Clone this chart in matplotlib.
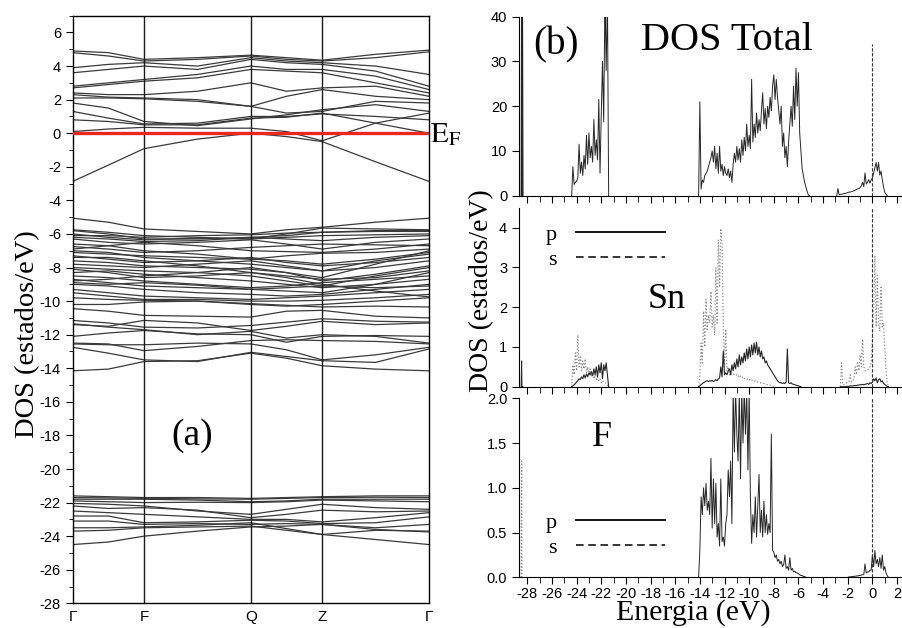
import numpy as np
import matplotlib.pyplot as plt
from matplotlib.lines import Line2D
from matplotlib.ticker import MultipleLocator, FormatStrFormatter

plt.rcParams['font.family'] = 'Liberation Sans'
plt.rcParams['axes.unicode_minus'] = False
plt.rcParams['mathtext.fontset'] = 'stix'
SERIF = 'Liberation Serif'

# ---- band structure (a) ----
k_labels = ['Γ', 'F', 'Q', 'Z', 'Γ']
k_nodes = [0.0, 0.2, 0.5, 0.7, 1.0]
k_path = [0.0, 0.1, 0.2, 0.35, 0.5, 0.6, 0.7, 0.85, 1.0]

bands_cond = [
    [-2.87, -1.9, -0.92, -0.35, 0.0, -0.2, -0.5, -1.7, -2.87],
    [0.1, 0.25, 0.35, 0.3, 0.3, 0.1, -0.45, 0.6, 1.2],
    [0.8, 0.7, 0.5, 0.5, 0.9, 0.95, 1.2, 0.6, 0.0],
    [1.3, 0.9, 0.55, 0.6, 1.0, 1.0, 1.15, 1.0, 0.8],
    [1.8, 1.5, 0.7, 0.45, 0.85, 1.1, 1.4, 1.7, 1.3],
    [2.1, 2.1, 2.05, 1.9, 1.6, 1.2, 1.3, 1.9, 1.8],
    [2.3, 2.15, 2.1, 2.0, 1.6, 2.2, 2.6, 2.2, 2.0],
    [2.4, 2.3, 2.3, 2.5, 3.0, 2.5, 2.7, 2.8, 2.2],
    [2.7, 2.9, 3.1, 3.3, 3.8, 3.7, 3.6, 3.0, 2.4],
    [2.8, 3.0, 3.2, 3.5, 4.0, 3.8, 3.8, 3.4, 2.6],
    [3.6, 3.8, 4.0, 3.8, 4.4, 4.2, 4.1, 3.7, 2.8],
    [3.9, 4.1, 4.2, 4.0, 4.5, 4.3, 4.2, 4.0, 3.5],
    [4.8, 4.6, 4.3, 4.4, 4.6, 4.4, 4.3, 4.5, 4.85],
    [4.9, 4.8, 4.4, 4.5, 4.65, 4.5, 4.35, 4.7, 4.95],
]

bands_val = [
    [-5.06, -5.3, -5.7, -5.85, -6.0, -5.75, -5.6, -5.3, -5.06],
    [-5.75, -5.9, -6.1, -6.2, -6.3, -6.0, -5.65, -5.7, -5.75],
    [-5.8, -6.0, -6.3, -6.3, -6.2, -6.1, -5.9, -5.8, -5.8],
    [-6.0, -6.2, -6.35, -6.25, -6.3, -6.2, -6.1, -6.05, -6.0],
    [-6.1, -6.1, -6.2, -6.1, -6.05, -5.95, -5.9, -5.85, -5.85],
    [-6.2, -6.3, -6.45, -6.4, -6.2, -6.3, -6.4, -6.2, -6.1],
    [-6.3, -6.5, -6.6, -6.5, -6.35, -6.6, -6.9, -6.5, -6.3],
    [-6.6, -6.7, -6.5, -6.7, -7.0, -7.05, -7.1, -6.9, -6.6],
    [-6.75, -6.9, -7.1, -7.0, -6.8, -6.7, -6.6, -6.65, -6.7],
    [-6.9, -6.7, -7.0, -7.2, -7.5, -7.3, -7.15, -7.1, -6.9],
    [-7.0, -7.1, -7.4, -7.6, -7.8, -8.0, -8.2, -7.6, -7.2],
    [-7.1, -7.2, -7.3, -7.4, -7.5, -7.6, -7.8, -7.5, -7.1],
    [-7.3, -7.5, -7.7, -7.6, -7.4, -7.7, -7.9, -7.7, -7.4],
    [-7.4, -7.4, -7.6, -7.9, -8.3, -8.6, -9.0, -9.4, -9.75],
    [-7.6, -7.7, -7.9, -8.0, -8.1, -8.3, -8.6, -7.8, -7.0],
    [-7.8, -7.9, -8.0, -7.8, -7.6, -7.9, -8.2, -8.0, -7.6],
    [-8.0, -8.1, -8.2, -8.3, -8.5, -8.8, -9.1, -8.5, -8.0],
    [-8.1, -8.3, -8.6, -8.5, -8.3, -8.5, -8.7, -8.6, -8.2],
    [-8.3, -8.2, -8.4, -8.6, -8.8, -9.0, -9.2, -9.0, -8.3],
    [-8.5, -8.6, -8.8, -9.0, -9.2, -9.1, -8.9, -8.7, -8.5],
    [-8.8, -8.7, -8.5, -8.3, -8.0, -8.3, -8.8, -8.4, -7.9],
    [-8.7, -8.9, -9.1, -9.2, -9.3, -9.4, -9.5, -9.0, -8.7],
    [-8.9, -9.0, -8.9, -9.05, -9.3, -9.2, -9.1, -9.2, -9.1],
    [-9.0, -9.1, -9.3, -9.5, -9.6, -9.7, -9.6, -9.3, -9.0],
    [-9.3, -9.5, -9.7, -9.8, -9.9, -9.8, -9.7, -9.5, -9.3],
    [-9.5, -9.7, -9.9, -9.9, -10.0, -10.0, -9.95, -9.8, -9.6],
    [-9.8, -9.9, -9.95, -10.0, -10.2, -10.3, -10.2, -10.0, -9.8],
    [-10.2, -10.2, -10.05, -10.0, -10.15, -10.25, -10.35, -10.3, -10.35],
    [-10.45, -10.6, -10.85, -10.9, -10.95, -10.6, -10.55, -10.9, -11.0],
    [-11.15, -11.3, -11.55, -11.6, -11.45, -11.25, -11.05, -11.2, -11.25],
    [-11.4, -11.5, -11.15, -11.3, -11.75, -11.5, -11.2, -11.4, -11.3],
    [-11.35, -11.55, -11.7, -12.0, -11.8, -12.2, -12.0, -12.1, -12.5],
    [-12.1, -11.9, -11.75, -11.95, -12.0, -12.45, -12.1, -12.05, -12.1],
    [-12.5, -12.55, -12.95, -12.7, -12.35, -12.3, -12.35, -12.4, -12.55],
    [-12.55, -12.6, -12.6, -12.5, -12.55, -12.9, -13.5, -13.2, -12.75],
    [-12.75, -13.1, -13.5, -13.6, -13.05, -13.3, -13.55, -13.65, -12.85],
    [-14.15, -14.05, -13.6, -13.55, -13.1, -13.4, -13.85, -14.05, -14.15],
]

bands_low = [
    [-21.6, -21.65, -21.7, -21.7, -21.75, -21.7, -21.65, -21.6, -21.6],
    [-21.7, -21.72, -21.75, -21.78, -21.8, -21.75, -21.7, -21.68, -21.7],
    [-21.8, -21.8, -21.8, -21.85, -21.95, -21.9, -21.8, -21.8, -21.8],
    [-21.9, -21.95, -22.0, -21.98, -22.0, -21.95, -21.85, -21.9, -21.95],
    [-22.05, -22.1, -22.2, -22.5, -22.7, -22.4, -22.1, -22.3, -22.4],
    [-22.2, -22.35, -22.3, -22.45, -22.9, -22.7, -22.45, -22.55, -22.5],
    [-22.5, -22.6, -22.7, -22.85, -23.0, -23.0, -23.15, -22.9, -22.6],
    [-22.8, -22.8, -23.2, -23.15, -23.05, -23.1, -23.25, -23.2, -22.85],
    [-23.1, -23.1, -23.3, -23.25, -23.3, -23.25, -23.3, -23.5, -23.3],
    [-23.5, -23.5, -23.45, -23.35, -23.2, -23.55, -23.9, -23.65, -23.7],
    [-23.7, -23.65, -23.5, -23.45, -23.4, -23.65, -23.9, -24.2, -24.5],
    [-24.5, -24.35, -24.0, -23.7, -23.45, -23.4, -23.3, -23.6, -23.75],
]

# ---- DOS (b): values on 0.1 eV steps starting at the given energy ----
core_e = [-28.50, -28.46, -28.43, -28.39, -28.35]
total_core = [0, 45, 0, 45, 0]
sn_p_core = [0, 0.65, 0, 0, 0]
f_s_core = [0, 1.3, 0, 0, 0]

total_a0 = -24.4
total_a = [0, 6.5, 2.5, 3.0, 3.2, 4.0, 11.5, 5.0, 7.5, 4.5, 9.0, 6.0, 13.5, 7.0, 14.0, 8.5,
           11.0, 7.5, 17.0, 9.0, 12.5, 8.0, 21.5, 5.0, 18.0, 30.0, 16.5, 45.0, 28.0, 45.0, 0.0]
total_b0 = -14.1
total_b = [0, 21, 1.5, 3.5, 3.0, 4.5, 5.0, 5.5, 6.5, 7.5, 8.5, 10.0, 7.5, 11.0, 6.0, 9.5,
           5.0, 11.0, 5.5, 7.0, 4.5, 6.5, 5.0, 4.5, 6.0, 4.0, 5.5, 3.0, 7.0, 9.5, 7.5, 11.0,
           8.0, 10.5, 7.5, 12.5, 9.0, 13.0, 10.0, 16.0, 11.0, 13.5, 10.5, 26.0, 12.0, 16.0,
           13.0, 18.5, 14.0, 17.0, 14.5, 19.0, 23.0, 16.0, 19.5, 15.0, 20.0, 17.5, 22.0, 19.0,
           24.5, 27.0, 21.5, 26.0, 22.0, 19.0, 16.0, 20.0, 11.0, 14.0, 8.5, 11.0, 6.5, 12.0,
           16.0, 20.0, 15.5, 24.5, 17.0, 28.5, 20.0, 27.5, 14.0, 10.0, 6.0, 4.5, 3.0, 2.0,
           1.0, 0.2, 0]
total_c0 = -2.9
total_c = [0, 1.6, 0.2, 0.3, 0.3, 0.4, 0.5, 0.5, 0.6, 0.7, 0.8, 0.8, 0.9, 1.0, 1.1, 1.2,
           1.4, 1.5, 1.6, 1.8, 2.2, 3.0, 2.0, 5.1, 2.6, 3.0, 3.6, 2.8, 3.5, 4.0, 5.0, 6.3,
           7.4, 5.5, 7.4, 4.6, 5.5, 3.6, 2.0, 0.8, 0.3, 0]

sn_a0 = -24.4
sn_p_a = [0, 0.02, 0.05, 0.08, 0.12, 0.15, 0.2, 0.18, 0.25, 0.2, 0.3, 0.22, 0.32, 0.25,
          0.35, 0.3, 0.38, 0.28, 0.45, 0.3, 0.5, 0.25, 0.55, 0.35, 0.6, 0.2, 0.55, 0.4,
          0.6, 0.3, 0]
sn_s_a = [0, 0.55, 0.3, 0.85, 0.4, 1.3, 0.5, 0.75, 0.4, 0.65, 0.45, 0.7, 0.35, 0.5, 0.3,
          0.45, 0.25, 0.35, 0.2, 0.3, 0.15, 0.25, 0.15, 0.2, 0.1, 0.15, 0.1, 0.1, 0.08,
          0.05, 0]
sn_b0 = -14.1
sn_p_b = [0, 0.03, 0.05, 0.08, 0.1, 0.12, 0.14, 0.15, 0.13, 0.15, 0.14, 0.16, 0.13, 0.15,
          0.18, 0.15, 0.2, 0.22, 0.5, 0.25, 0.9, 0.3, 0.35, 0.3, 0.4, 0.45, 0.3, 0.55, 0.4,
          0.6, 0.45, 0.7, 0.5, 0.8, 0.55, 0.75, 0.6, 0.85, 0.65, 0.95, 0.7, 1.0, 0.75, 1.05,
          0.8, 1.1, 0.85, 1.12, 0.8, 1.0, 0.75, 0.9, 0.7, 0.75, 0.6, 0.65, 0.55, 0.5, 0.45,
          0.4, 0.35, 0.3, 0.25, 0.2, 0.15, 0.12, 0.1, 0.1, 0.08, 0.1, 0.08, 0.12, 0.95, 0.1,
          0.08, 0.1, 0.07, 0.06, 0.05, 0.04, 0.03, 0.02, 0.01, 0]
sn_s_b = [0, 0.3, 1.1, 0.6, 1.9, 1.0, 2.2, 1.4, 1.8, 1.6, 2.4, 1.5, 1.8, 1.3, 3.0, 1.6,
          3.7, 2.5, 3.98, 3.6, 1.5, 0.5, 1.45, 0.4, 0.5, 0.3, 0.35, 0.3, 0.32, 0.3, 0.28,
          0.3, 0.25, 0.3, 0.25, 0.22, 0.25, 0.2, 0.22, 0.2, 0.18, 0.2, 0.15, 0.17, 0.15,
          0.13, 0.15, 0.12, 0.12, 0.1, 0.1, 0.09, 0.08, 0.08, 0.07, 0.06, 0.05, 0.05, 0.04,
          0.03, 0.02, 0.01, 0]
sn_c0 = -2.6
sn_p_c = [0, 0, 0, 0, 0, 0.01, 0.01, 0.01, 0.02, 0.02, 0.02, 0.03, 0.03, 0.03, 0.04, 0.04,
          0.05, 0.05, 0.06, 0.05, 0.06, 0.07, 0.08, 0.06, 0.1, 0.08, 0.12, 0.2, 0.15, 0.22,
          0.1, 0.18, 0.2, 0.12, 0.15, 0.08, 0.06, 0.03, 0.01, 0]
sn_s_c = [0, 0.6, 0.05, 0.05, 0.08, 0.1, 0.1, 0.12, 0.3, 0.12, 0.15, 0.2, 0.5, 0.3, 0.6,
          0.4, 0.8, 0.5, 1.2, 0.5, 0.4, 0.4, 0.42, 0.45, 0.5, 0.6, 1.2, 2.0, 3.3, 1.5, 2.8,
          1.6, 1.4, 2.5, 1.5, 1.6, 1.0, 0.4, 0.1, 0]

f_b0 = -14.1
f_p_b = [0, 0.3, 0.9, 0.7, 1.0, 0.8, 1.05, 0.75, 0.85, 0.7, 1.33, 0.55, 1.1, 0.6, 1.05,
         0.45, 0.6, 0.35, 1.1, 0.4, 0.45, 0.35, 0.6, 0.7, 1.2, 0.9, 1.3, 0.6, 2.1, 1.4, 2.1,
         1.6, 1.3, 2.1, 1.1, 2.1, 1.5, 2.1, 1.6, 2.1, 1.2, 2.1, 0.9, 0.38, 0.7, 0.5, 0.9,
         0.45, 0.8, 1.15, 0.5, 0.75, 0.45, 0.85, 0.5, 0.7, 0.48, 0.6, 0.5, 1.6, 0.3, 0.28,
         0.22, 0.25, 0.18, 0.2, 0.15, 0.18, 0.12, 0.14, 0.25, 0.1, 0.12, 0.08, 0.22, 0.08,
         0.1, 0.06, 0.07, 0.05, 0.05, 0.04, 0.03, 0.02, 0.02, 0.01, 0.01, 0]
f_c0 = -2.0
f_p_c = [0, 0.005, 0.005, 0.008, 0.01, 0.01, 0.012, 0.015, 0.015, 0.02, 0.02, 0.025, 0.03,
         0.03, 0.15, 0.05, 0.06, 0.06, 0.08, 0.08, 0.25, 0.12, 0.3, 0.15, 0.2, 0.12, 0.22,
         0.1, 0.25, 0.08, 0.12, 0.05, 0.02, 0]


def grid(e0, vals):
    return np.round(e0 + 0.1 * np.arange(len(vals)), 2)


fig = plt.figure(figsize=(9.03, 6.28), dpi=100)

# ---------- left: bands ----------
ax = fig.add_axes([0.0805, 0.0393, 0.3946, 0.9357])
for b in bands_cond + bands_val + bands_low:
    ax.plot(k_path, b, color='#3a3a3a', lw=0.9)
for k in k_nodes[1:-1]:
    ax.axvline(k, color='#1a1a1a', lw=1.0)
ax.axhline(0, color='#e8281e', lw=2.4, zorder=5)
ax.set_xlim(0, 1)
ax.set_ylim(-28, 7)
ax.set_xticks(k_nodes, k_labels)
ax.tick_params(axis='x', length=0, pad=5, labelsize=11)
ax.yaxis.set_major_locator(MultipleLocator(2))
ax.yaxis.set_minor_locator(MultipleLocator(1))
ax.tick_params(axis='y', which='major', direction='out', length=5, labelsize=10.5)
ax.tick_params(axis='y', which='minor', direction='out', length=3)
for s in ax.spines.values():
    s.set_linewidth(1.0)
ax.text(1.004, -0.55, r'$\mathrm{E_F}$', transform=ax.get_yaxis_transform(),
        ha='left', va='baseline', fontsize=21)

fig.text(28 / 903, 1 - 334 / 628, 'DOS (estados/eV)', rotation=90, ha='center',
         va='center', family=SERIF, fontsize=20.5)
fig.text(191.7 / 903, 1 - 436 / 628, '(a)', ha='center', va='center', family=SERIF,
         fontsize=27)

# ---------- right: DOS ----------
x_left, width = 0.5748, 0.432
ax1 = fig.add_axes([x_left, 0.6884, width, 0.285])
ax2 = fig.add_axes([x_left, 0.3842, width, 0.2849])
ax3 = fig.add_axes([x_left, 0.0807, width, 0.285])

dark = '#262626'
grey = '#8c8c8c'

ax1.plot(core_e, total_core, color=dark, lw=0.8)
ax1.plot(grid(total_a0, total_a), total_a, color=dark, lw=0.7)
ax1.plot(grid(total_b0, total_b), total_b, color=dark, lw=0.7)
ax1.plot(grid(total_c0, total_c), total_c, color=dark, lw=0.7)
ax1.vlines(0, 0, 34, color='#333333', lw=0.8, linestyles=(0, (3, 1.5)))

ax2.plot(core_e, sn_p_core, color=dark, lw=0.7)
for e0, vals in [(sn_a0, sn_s_a), (sn_b0, sn_s_b), (sn_c0, sn_s_c)]:
    ax2.plot(grid(e0, vals), vals, color=grey, lw=0.9, ls=':')
for e0, vals in [(sn_a0, sn_p_a), (sn_b0, sn_p_b), (sn_c0, sn_p_c)]:
    ax2.plot(grid(e0, vals), vals, color=dark, lw=0.8)
ax2.axvline(0, color='#333333', lw=0.8, ls=(0, (3, 1.5)))

ax3.plot(core_e, f_s_core, color=grey, lw=0.9, ls=':')
ax3.plot(grid(f_b0, f_p_b), f_p_b, color=dark, lw=0.7)
ax3.plot(grid(f_c0, f_p_c), f_p_c, color=dark, lw=0.7)
ax3.axvline(0, color='#333333', lw=0.8, ls=(0, (3, 1.5)))

ylims = [(0, 40), (0, 4.5), (0, 2.0)]
ymaj = [10, 1, 0.5]
for a, yl, ym in zip([ax1, ax2, ax3], ylims, ymaj):
    a.set_xlim(-28.67, 2.98)
    a.set_ylim(*yl)
    a.spines['top'].set_visible(False)
    a.spines['right'].set_visible(False)
    a.xaxis.set_major_locator(MultipleLocator(2))
    a.xaxis.set_minor_locator(MultipleLocator(1))
    a.yaxis.set_major_locator(MultipleLocator(ym))
    a.tick_params(which='major', direction='out', length=5, labelsize=10.5)
    a.tick_params(which='minor', direction='out', length=4)
for a in (ax1, ax2):
    a.tick_params(labelbottom=False)
ax3.tick_params(axis='x', pad=2)
ax3.yaxis.set_major_formatter(FormatStrFormatter('%.1f'))

fig.text(555.7 / 903, 1 - 45 / 628, '(b)', ha='center', va='center', family=SERIF,
         fontsize=28)
fig.text(727 / 903, 1 - 40 / 628, 'DOS Total', ha='center', va='center', family=SERIF,
         fontsize=29)
fig.text(667 / 903, 1 - 300 / 628, 'Sn', ha='center', va='center', family=SERIF,
         fontsize=26)
fig.text(601.7 / 903, 1 - 437 / 628, 'F', ha='center', va='center', family=SERIF,
         fontsize=26)
fig.text(693 / 903, 1 - 620 / 628, 'Energia (eV)', ha='center', va='baseline',
         family=SERIF, fontsize=21.5)
fig.text(482 / 903, 1 - 291 / 628, 'DOS (estados/eV)', rotation=90, ha='center',
         va='center', family=SERIF, fontsize=20)

handles = [Line2D([], [], color='k', lw=1.3),
           Line2D([], [], color='k', lw=1.1, ls=(0, (5, 3)))]
for top_px in (224, 512):
    fig.legend(handles, ['p', 's'], loc='upper left',
               bbox_to_anchor=(546 / 903, 1 - top_px / 628), frameon=False,
               markerfirst=False, prop={'family': SERIF, 'size': 16},
               handlelength=4.0, handletextpad=0.85, labelspacing=0.22,
               borderpad=0, borderaxespad=0)

fig.savefig('out.png', dpi=100)
